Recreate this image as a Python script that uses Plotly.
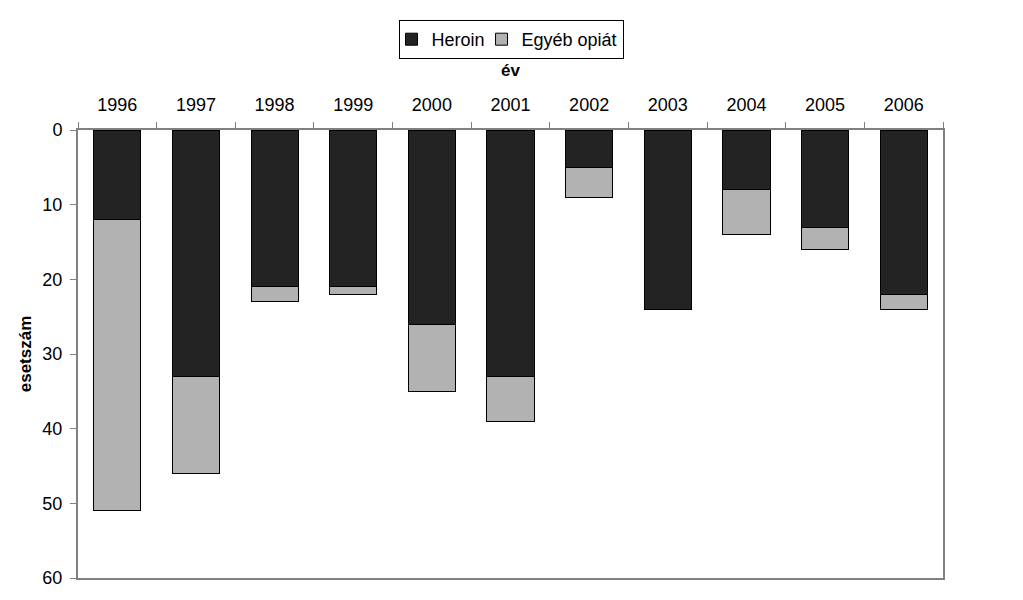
import plotly.graph_objects as go

years = ["1996", "1997", "1998", "1999", "2000", "2001", "2002", "2003", "2004", "2005", "2006"]
heroin = [12, 33, 21, 21, 26, 33, 5, 24, 8, 13, 22]
egyeb_opiat = [39, 13, 2, 1, 9, 6, 4, 0, 6, 3, 2]
y_ticks = [0, 10, 20, 30, 40, 50, 60]

font_family = "Liberation Sans, Arial, sans-serif"

fig = go.Figure()
fig.add_trace(go.Bar(
    x=years, y=heroin, name="Heroin",
    marker=dict(color="#232323", line=dict(color="#000000", width=1)),
))
fig.add_trace(go.Bar(
    x=years, y=egyeb_opiat, name="Egyéb opiát",
    marker=dict(color="#b2b2b2", line=dict(color="#000000", width=1)),
))

W, H = 1023, 600
fig.update_layout(
    width=W, height=H,
    barmode="stack", bargap=0.4,
    paper_bgcolor="white", plot_bgcolor="white",
    margin=dict(l=70, r=W - 935, t=122, b=H - 570),
    font=dict(family=font_family, size=17, color="#000000"),
    showlegend=True,
    legend=dict(
        orientation="h", x=503 / W, xanchor="center",
        y=1 - 12 / H, yanchor="top", yref="container", xref="container",
        bordercolor="#000000", borderwidth=1,
        font=dict(size=18), traceorder="normal",
        itemwidth=30, indentation=-8,
    ),
)

fig.update_xaxes(
    type="category", side="top", automargin=False,
    showline=True, linecolor="#808080", linewidth=2, mirror=True,
    ticks="outside", tickson="boundaries", ticklen=6, tickcolor="#808080",
    ticklabelstandoff=10,
    showgrid=False,
    title=dict(text="<b>év</b>", font=dict(size=17), standoff=14),
    tickfont=dict(size=18),
)
fig.update_yaxes(
    range=[60, 0], tickvals=y_ticks, automargin=False,
    showline=True, linecolor="#808080", linewidth=2, mirror=True,
    ticks="outside", ticklen=6, tickcolor="#808080",
    ticklabelstandoff=4,
    showgrid=False, zeroline=False,
    title=dict(text="<b>esetszám</b>", font=dict(size=17), standoff=6),
    tickfont=dict(size=18),
)

fig.write_html("out.html")
